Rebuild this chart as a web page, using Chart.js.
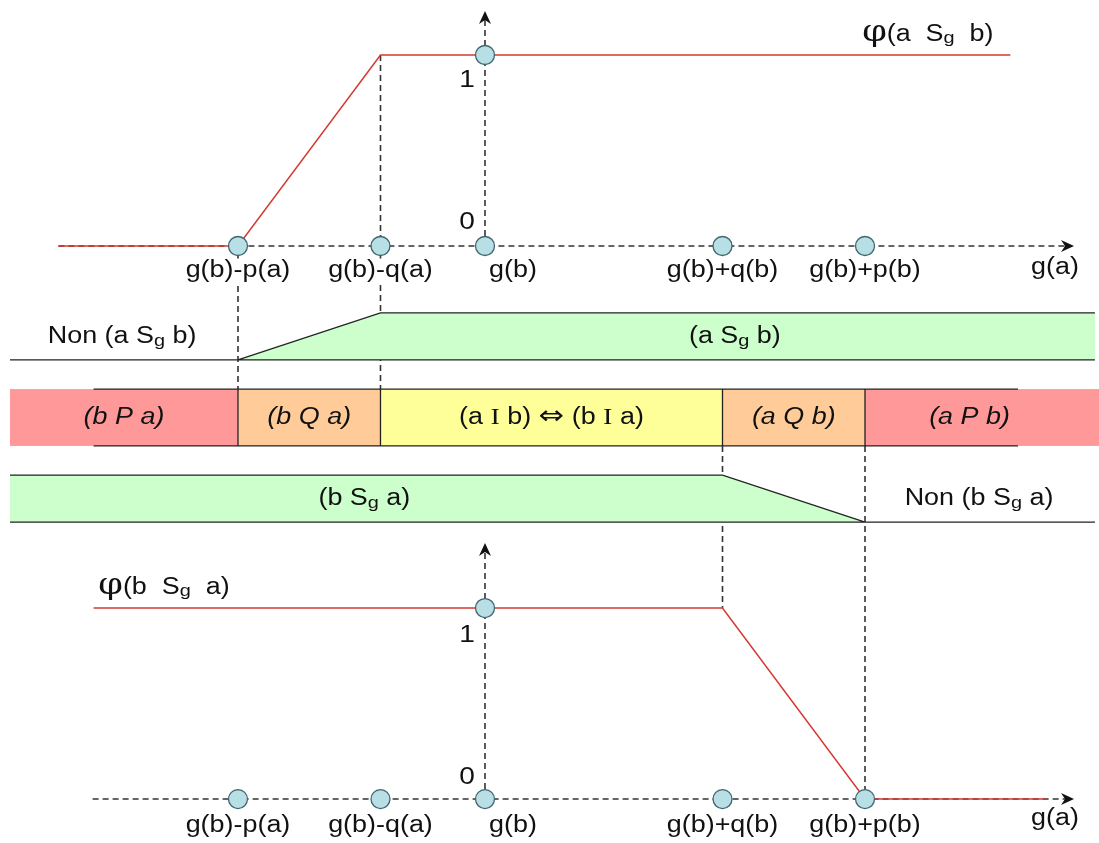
<!DOCTYPE html>
<html>
<head>
<meta charset="utf-8">
<script src="https://cdn.jsdelivr.net/npm/chart.js@4.4.1/dist/chart.umd.min.js"></script>
<style>
  html, body { margin: 0; padding: 0; background: #fff; }
  canvas { display: block; }
</style>
</head>
<body>
<canvas id="chart" width="1099" height="843"></canvas>
<script>
// g(a) axis breakpoints, with g(b) at 0
const breakX = [-2.6, -1.1, 0, 2.5, 4.0];
const breakLabels = ['g(b)-p(a)', 'g(b)-q(a)', 'g(b)', 'g(b)+q(b)', 'g(b)+p(b)'];

// phi(a Sg b) : 0 before g(b)-p(a), 1 after g(b)-q(a)
const phiABx = [-4.49, -2.6, -1.1, 5.53];
const phiABy = [0, 0, 1, 1];

// phi(b Sg a) : 1 before g(b)+q(b), 0 after g(b)+p(b)
const phiBAx = [-4.12, 2.5, 4.0, 5.9];
const phiBAy = [1, 1, 0, 0];

const yTickValues = [0, 1];
const yTickLabels = ['0', '1'];
const axisTitle = 'g(a)';

// relation bands
const relLabels = ['(b P a)', '(b Q a)', '(a ~I b) ⇔ (b ~I a)', '(a Q b)', '(a P b)'];
const relKinds = ['P', 'Q', 'I', 'Q', 'P'];
const sabLabels = ['Non (a S_g b)', '(a S_g b)'];
const sbaLabels = ['(b S_g a)', 'Non (b S_g a)'];
const phiLabels = ['φ(a  S_g  b)', 'φ(b  S_g  a)'];

// layout (not data)
const layout = {
  left: -5.0, right: 6.42, edge: 6.47,
  axisEnd: 6.2, relBorder: [-4.12, 5.61],
  topAxisStart: -4.49, botAxisStart: -4.13,
  topArrow: 1.23, botArrow: 1.34,
  rows: [[0, 1], [1.62, 2.83], [3.45, 4.45]],
  sabX: [-3.82, 2.63], sbaX: [-1.27, 5.2], relPX: 5.1,
  phiX: [3.97, -4.07], titleX: 6.0
};

const colors = {
  P: '#ff9999', Q: '#ffcc99', I: '#ffff99', S: '#ccffcc',
  red: '#d43a32', ink: '#222', dash: '#333',
  dotFill: '#b9dfe6', dotBorder: '#40666d'
};

const pts = (xs, ys) => xs.map((x, i) => ({ x: x, y: ys[i] }));
const dots = breakX.map(x => ({ x: x, y: 0 })).concat([{ x: 0, y: 1 }]);
const SX = 1.17;

function parseRich(text) {
  const parts = [];
  let buf = '';
  const flush = () => { if (buf) parts.push({ t: buf, kind: 'n' }); buf = ''; };
  for (let i = 0; i < text.length; i++) {
    const c = text[i];
    if (c === '_') { flush(); parts.push({ t: text[i + 1], kind: 'sub' }); i++; }
    else if (c === '~') { flush(); parts.push({ t: text[i + 1], kind: 'serif' }); i++; }
    else if (c === 'φ') { flush(); parts.push({ t: c, kind: 'phi' }); }
    else if (c === '⇔') { flush(); parts.push({ t: c, kind: 'arrow' }); }
    else buf += c;
  }
  flush();
  return parts;
}

function drawRich(ctx, text, x, y, o) {
  o = o || {};
  const size = o.size || 23;
  const it = o.italic ? 'italic ' : '';
  const fontFor = p => {
    if (p.kind === 'phi') return Math.round(size * 1.3) + 'px "DejaVu Serif", serif';
    if (p.kind === 'serif') return Math.round(size * 1.05) + 'px "Liberation Serif", serif';
    if (p.kind === 'arrow') return Math.round(size * 1.15) + 'px "DejaVu Sans", sans-serif';
    if (p.kind === 'sub') return it + Math.round(size * 0.72) + 'px "Liberation Sans", Arial, sans-serif';
    return it + size + 'px "Liberation Sans", Arial, sans-serif';
  };
  const parts = parseRich(text);
  ctx.save();
  ctx.textBaseline = 'alphabetic';
  let w = 0;
  parts.forEach(p => { ctx.font = fontFor(p); p.w = ctx.measureText(p.t).width; w += p.w; });
  ctx.translate(x, y + size * 0.3);
  ctx.scale(SX, 1);
  let cx = o.align === 'left' ? 0 : o.align === 'right' ? -w : -w / 2;
  if (o.bg) {
    ctx.fillStyle = o.bg;
    ctx.fillRect(cx - 2, -size * 0.8, w + 4, size * 1.05);
  }
  ctx.fillStyle = o.color || '#111';
  parts.forEach(p => {
    ctx.font = fontFor(p);
    ctx.fillText(p.t, cx, p.kind === 'sub' ? size * 0.1 : 0);
    cx += p.w;
  });
  ctx.restore();
}

function arrowHead(ctx, x, y, dir) {
  ctx.save();
  ctx.translate(x, y);
  ctx.rotate(dir);
  ctx.fillStyle = '#111';
  ctx.beginPath();
  ctx.moveTo(0, 0);
  ctx.lineTo(-13, -6);
  ctx.lineTo(-9, 0);
  ctx.lineTo(-13, 6);
  ctx.closePath();
  ctx.fill();
  ctx.restore();
}

const diagram = {
  id: 'diagram',
  beforeDatasetsDraw(chart) {
    const ctx = chart.ctx;
    const X = v => chart.scales.x.getPixelForValue(v);
    const T = v => chart.scales.yTop.getPixelForValue(v);
    const Bo = v => chart.scales.yBot.getPixelForValue(v);
    const R = v => chart.scales.yBand.getPixelForValue(v);
    const [r1, r2, r3] = layout.rows;

    // dashed guides linking the curves with the bands
    ctx.save();
    ctx.strokeStyle = colors.dash;
    ctx.lineWidth = 1.6;
    ctx.setLineDash([6, 4]);
    ctx.beginPath();
    ctx.moveTo(X(breakX[0]), T(0)); ctx.lineTo(X(breakX[0]), R(r2[0]));
    ctx.moveTo(X(breakX[1]), T(1)); ctx.lineTo(X(breakX[1]), R(r2[0]));
    ctx.moveTo(X(breakX[3]), R(r2[1])); ctx.lineTo(X(breakX[3]), Bo(1));
    ctx.moveTo(X(breakX[4]), R(r2[1])); ctx.lineTo(X(breakX[4]), Bo(0));
    ctx.stroke();
    ctx.restore();

    ctx.save();
    ctx.strokeStyle = colors.ink;
    ctx.lineWidth = 1.3;

    // band 1 : a Sg b
    ctx.fillStyle = colors.S;
    ctx.beginPath();
    ctx.moveTo(X(breakX[0]), R(r1[1]));
    ctx.lineTo(X(breakX[1]), R(r1[0]));
    ctx.lineTo(X(layout.right), R(r1[0]));
    ctx.lineTo(X(layout.right), R(r1[1]));
    ctx.closePath();
    ctx.fill();
    ctx.beginPath();
    ctx.moveTo(X(layout.left), R(r1[1])); ctx.lineTo(X(layout.right), R(r1[1]));
    ctx.moveTo(X(breakX[0]), R(r1[1])); ctx.lineTo(X(breakX[1]), R(r1[0])); ctx.lineTo(X(layout.right), R(r1[0]));
    ctx.stroke();

    // band 2 : preference relations
    const edges = [layout.left, breakX[0], breakX[1], breakX[3], breakX[4], layout.edge];
    relKinds.forEach((k, i) => {
      ctx.fillStyle = colors[k];
      ctx.fillRect(X(edges[i]), R(r2[0]), X(edges[i + 1]) - X(edges[i]), R(r2[1]) - R(r2[0]));
    });
    ctx.beginPath();
    ctx.moveTo(X(layout.relBorder[0]), R(r2[0])); ctx.lineTo(X(layout.relBorder[1]), R(r2[0]));
    ctx.moveTo(X(layout.relBorder[0]), R(r2[1])); ctx.lineTo(X(layout.relBorder[1]), R(r2[1]));
    [breakX[0], breakX[1], breakX[3], breakX[4]].forEach(v => {
      ctx.moveTo(X(v), R(r2[0])); ctx.lineTo(X(v), R(r2[1]));
    });
    ctx.stroke();

    // band 3 : b Sg a
    ctx.fillStyle = colors.S;
    ctx.beginPath();
    ctx.moveTo(X(layout.left), R(r3[0]));
    ctx.lineTo(X(breakX[3]), R(r3[0]));
    ctx.lineTo(X(breakX[4]), R(r3[1]));
    ctx.lineTo(X(layout.left), R(r3[1]));
    ctx.closePath();
    ctx.fill();
    ctx.beginPath();
    ctx.moveTo(X(layout.left), R(r3[0])); ctx.lineTo(X(breakX[3]), R(r3[0])); ctx.lineTo(X(breakX[4]), R(r3[1]));
    ctx.moveTo(X(layout.left), R(r3[1])); ctx.lineTo(X(layout.right), R(r3[1]));
    ctx.stroke();
    ctx.restore();

    // band texts
    const mid = r => R((r[0] + r[1]) / 2);
    sabLabels.forEach((t, i) => drawRich(ctx, t, X(layout.sabX[i]), mid(r1)));
    relLabels.forEach((t, i) => {
      let cx = (edges[i] + edges[i + 1]) / 2;
      if (i === relLabels.length - 1) cx = layout.relPX;
      drawRich(ctx, t, X(cx), mid(r2), { italic: relKinds[i] !== 'I' });
    });
    sbaLabels.forEach((t, i) => drawRich(ctx, t, X(layout.sbaX[i]), mid(r3)));
  },
  afterDatasetsDraw(chart) {
    const ctx = chart.ctx;
    const X = v => chart.scales.x.getPixelForValue(v);
    const T = v => chart.scales.yTop.getPixelForValue(v);
    const Bo = v => chart.scales.yBot.getPixelForValue(v);

    // arrow heads
    arrowHead(ctx, X(layout.axisEnd), T(0), 0);
    arrowHead(ctx, X(0), T(layout.topArrow), -Math.PI / 2);
    arrowHead(ctx, X(layout.axisEnd), Bo(0), 0);
    arrowHead(ctx, X(0), Bo(layout.botArrow), -Math.PI / 2);

    // tick labels on g(a)
    breakX.forEach((v, i) => {
      const isG = breakLabels[i] === 'g(b)';
      const x = X(v) + (isG ? 4 : 0);
      const al = isG ? 'left' : 'center';
      drawRich(ctx, breakLabels[i], x, T(0) + 24, { align: al, bg: '#fff' });
      drawRich(ctx, breakLabels[i], x, Bo(0) + 26, { align: al });
    });
    drawRich(ctx, axisTitle, X(layout.titleX), T(0) + 21);
    drawRich(ctx, axisTitle, X(layout.titleX), Bo(0) + 19);

    // 0 / 1 on the phi axes
    yTickValues.forEach((v, i) => {
      const off = v === 1 ? 25 : -24;
      drawRich(ctx, yTickLabels[i], X(0) - 18, T(v) + off, { size: 24 });
      drawRich(ctx, yTickLabels[i], X(0) - 18, Bo(v) + off + 2, { size: 24 });
    });

    // curve names
    drawRich(ctx, phiLabels[0], X(layout.phiX[0]), T(1) - 21, { align: 'left' });
    drawRich(ctx, phiLabels[1], X(layout.phiX[1]), Bo(1) - 21, { align: 'left' });
  }
};

const dashed = (data, axis) => ({
  data: data, yAxisID: axis, showLine: true, pointRadius: 0,
  borderColor: colors.dash, borderWidth: 1.6, borderDash: [6, 4], clip: false
});
const dotSet = axis => ({
  data: dots, yAxisID: axis, showLine: false, pointRadius: 9.5, pointHoverRadius: 9.5,
  pointBackgroundColor: colors.dotFill, pointBorderColor: colors.dotBorder, pointBorderWidth: 1.3, clip: false
});
const redLine = (data, axis) => ({
  data: data, yAxisID: axis, showLine: true, pointRadius: 0,
  borderColor: colors.red, borderWidth: 1.5, clip: false
});

new Chart(document.getElementById('chart'), {
  type: 'scatter',
  data: {
    datasets: [
      dotSet('yTop'),
      dotSet('yBot'),
      redLine(pts(phiABx, phiABy), 'yTop'),
      redLine(pts(phiBAx, phiBAy), 'yBot'),
      dashed(pts([layout.topAxisStart, layout.axisEnd - 0.05], [0, 0]), 'yTop'),
      dashed(pts([0, 0], [0, layout.topArrow - 0.03]), 'yTop'),
      dashed(pts([layout.botAxisStart, layout.axisEnd - 0.05], [0, 0]), 'yBot'),
      dashed(pts([0, 0], [0, layout.botArrow - 0.03]), 'yBot')
    ]
  },
  options: {
    responsive: false,
    animation: false,
    layout: { padding: 0, autoPadding: false },
    plugins: { legend: { display: false }, tooltip: { enabled: false } },
    scales: {
      x: { type: 'linear', min: -5.105, max: 6.463, display: false, bounds: 'data' },
      yTop: { type: 'linear', min: -3.126, max: 1.288, display: false, bounds: 'data' },
      yBot: { type: 'linear', min: -0.230, max: 4.183, display: false, bounds: 'data' },
      yBand: { type: 'linear', min: -6.66, max: 11.28, reverse: true, display: false, bounds: 'data' }
    }
  },
  plugins: [diagram]
});
</script>
</body>
</html>
